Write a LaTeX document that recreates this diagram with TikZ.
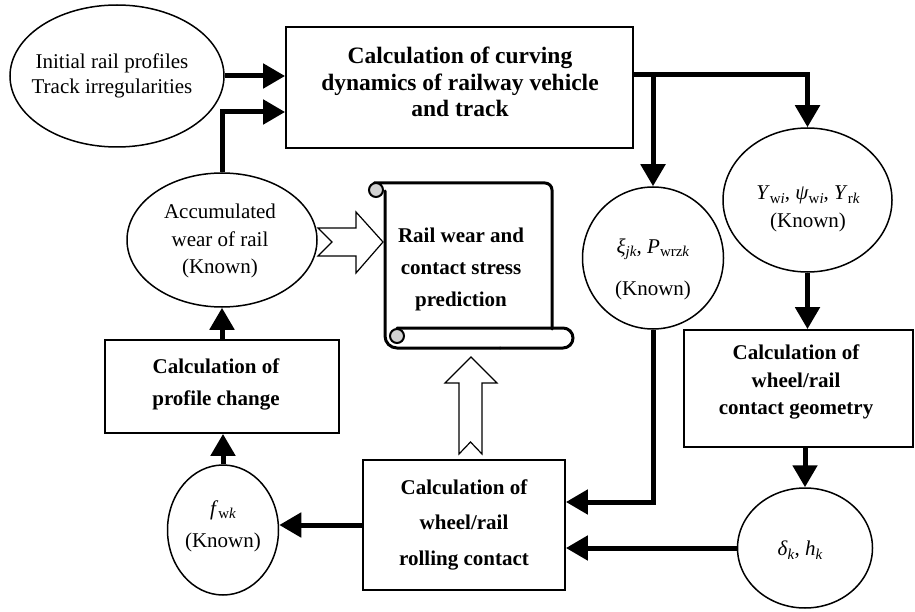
\documentclass[tikz,border=0pt]{standalone}
\usepackage{fontspec}
\setmainfont{Liberation Serif}
\usetikzlibrary{arrows.meta,shapes.geometric,calc}
\newcommand\mysub[1]{\raisebox{-0.35ex}{\fontsize{15}{15}\selectfont #1}}
\begin{document}
\begin{tikzpicture}[x=1pt,y=-1pt,
  thk/.style={line width=5pt, -{Triangle[length=22pt,width=24pt]}},
  boxn/.style={draw, line width=1.8pt, rectangle, inner sep=0},
  elln/.style={draw, line width=1.5pt, ellipse, inner sep=0},
  txt/.style={align=center, inner sep=0, font=\fontsize{21}{27}\selectfont},
  btxt/.style={align=center, inner sep=0, font=\bfseries\fontsize{21}{27}\selectfont},
  hollow/.style={draw, line width=1.2pt, fill=white, line join=miter},
  scrl/.style={line width=3pt, line cap=round},
]
\fill[white] (0,0) rectangle (915,612);
\useasboundingbox (0,0) rectangle (915,612);

% shapes
\node[elln, minimum width=214pt, minimum height=142pt] (init) at (117,76) {};
\node[txt, font=\fontsize{21}{25}\selectfont] (initt) at (112,76) {Initial rail profiles\\Track irregularities};

\node[boxn, minimum width=347pt, minimum height=121pt] (dyn) at (459.5,87.5) {};
\node[btxt, font=\bfseries\fontsize{23.5}{26.5}\selectfont] (dynt) at (460,82) {Calculation of curving\\dynamics of railway vehicle\\and track};

\node[elln, minimum width=190pt, minimum height=134pt] (acc) at (222,240) {};
\node[txt, font=\fontsize{21}{27.5}\selectfont] (acct) at (220,241) {Accumulated\\wear of rail\\(Known)};

\node[elln, minimum width=169pt, minimum height=144pt] (Y) at (807.5,200) {};
\node[txt, font=\fontsize{21}{28}\selectfont] (Yt) at (808,209) {\textit{Y}\mysub{w\textit{i}}, \textit{ψ}\mysub{w\textit{i}}, \textit{Y}\mysub{r\textit{k}}\\(Known)};

\node[elln, minimum width=141pt, minimum height=142pt] (xi) at (653,258) {};
\node[txt, font=\fontsize{21}{42}\selectfont] (xit) at (653,269) {\textit{ξ}\mysub{\textit{jk}}, \textit{P}\mysub{wrz\textit{k}}\\(Known)};

\node[boxn, minimum width=229pt, minimum height=117pt] (geo) at (798.5,388.5) {};
\node[btxt, font=\bfseries\fontsize{21}{27.5}\selectfont] (geot) at (796,382) {Calculation of\\wheel/rail\\contact geometry};

\node[boxn, minimum width=234pt, minimum height=93pt] (prof) at (222,386.5) {};
\node[btxt, font=\bfseries\fontsize{21}{32}\selectfont] (proft) at (216,384) {Calculation of\\profile change};

\node[elln, minimum width=111pt, minimum height=130pt] (f) at (223,530) {};
\node[txt, font=\fontsize{21}{32}\selectfont] (ft) at (223,526) {\textit{f}\mysub{w\textit{k}}\\(Known)};

\node[boxn, minimum width=202pt, minimum height=130pt] (roll) at (464,525) {};
\node[btxt, font=\bfseries\fontsize{21}{35.5}\selectfont] (rollt) at (464,524.5) {Calculation of\\wheel/rail\\rolling contact};

\node[elln, minimum width=135pt, minimum height=120pt] (delta) at (805,548) {};
\node[txt] (deltat) at (800,550) {\textit{δ}\mysub{\textit{k}}, \textit{h}\mysub{\textit{k}}};

% scroll
\draw[scrl, rounded corners=7pt] (374,183) -- (552,183) -- (552,329);
\draw[scrl, rounded corners=10pt] (397,328) -- (573,328) -- (573,348) -- (500,348);
\draw[scrl, rounded corners=12pt] (500,348) -- (385,348) -- (385,191);
\draw[line width=2pt, fill=gray!35] (376,190) circle[radius=7pt];
\draw[line width=2pt, fill=gray!35] (397,336) circle[radius=7pt];
\node[btxt, font=\bfseries\fontsize{21}{32}\selectfont] (scrollt) at (461,269) {Rail wear and\\contact stress\\prediction};

% hollow arrows
\draw[hollow] (318,228) -- (332,242) -- (318,256) -- (356,256) -- (356,273) -- (383,242) -- (356,212) -- (356,228) -- cycle;
\draw[hollow] (459,454) -- (470.5,442) -- (482,454) -- (482,383) -- (497,383) -- (471,357) -- (445,383) -- (459,383) -- cycle;

% connectors
\coordinate (dynin2) at ([yshift=-24.5pt]dyn.west);
\coordinate (dynout) at ([yshift=12.5pt]dyn.east);
\coordinate (rollin) at ([yshift=23pt]roll.east);
\draw[thk] (init.east) -- (init.east -| dyn.west);
\draw[thk] (acc.north) |- (dynin2);
\draw[thk] (dynout) -| (Y.north);
\draw[thk] (dynout -| xi.north) -- (xi.north);
\draw[thk] (Y.south) -- (Y.south |- geo.north);
\draw[thk] (delta.north |- geo.south) -- (delta.north);
\draw[thk] (delta.west) -- (delta.west -| roll.east);
\draw[thk] (xi.south) |- (rollin);
\draw[thk] (roll.west) -- (roll.west -| f.east);
\draw[thk] (f.north) -- (f.north |- prof.south);
\draw[thk] (acc.south |- prof.north) -- (acc.south);
\end{tikzpicture}
\end{document}
